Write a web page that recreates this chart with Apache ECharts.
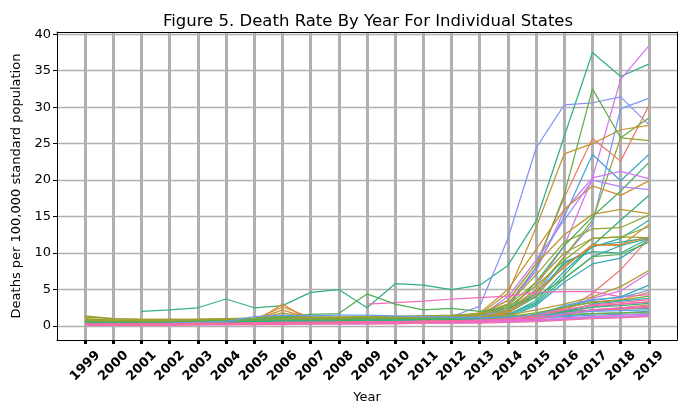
<!DOCTYPE html>
<html>
<head>
<meta charset="utf-8">
<script src="https://cdn.jsdelivr.net/npm/echarts@6/dist/echarts.min.js"></script>
<style>
  html, body { margin: 0; padding: 0; background: #fff; }
  #main { width: 686px; height: 414px; }
</style>
</head>
<body>
<div id="main"></div>
<script>
// years on the x axis
var years = [1999,2000,2001,2002,2003,2004,2005,2006,2007,2008,2009,2010,2011,2012,2013,2014,2015,2016,2017,2018,2019];
var yTicks = [0,5,10,15,20,25,30,35,40];

// one row per state, deaths per 100,000, null = no data
var stateRates = [
  [null,null,2.0,2.2,2.5,3.7,2.5,2.8,4.6,5.0,2.5,5.8,5.6,5.0,5.6,8.3,14.4,26.0,37.5,34.2,35.9],
  [0.3,0.3,0.4,0.4,0.5,0.6,0.6,1.0,0.8,0.8,0.9,0.9,1.0,1.1,1.5,2.5,5.5,11.0,20.3,33.8,38.4],
  [0.4,0.5,0.5,0.6,0.7,0.8,0.9,1.1,0.9,1.0,1.0,1.1,1.2,1.3,2.7,12.0,24.4,30.3,30.6,31.4,27.6],
  [0.3,0.3,0.3,0.4,0.4,0.5,0.5,0.7,0.6,0.6,0.7,0.7,0.8,0.9,1.2,2.2,4.5,9.5,14.0,29.8,31.2],
  [0.2,0.2,0.3,0.3,0.3,0.4,0.4,0.6,0.5,0.5,0.6,0.6,0.7,0.8,1.5,3.5,8.5,17.6,25.7,22.6,30.2],
  [0.5,0.4,0.4,0.5,0.5,0.6,0.7,0.9,0.8,0.8,0.9,1.0,1.0,1.1,1.2,3.0,8.0,18.0,32.5,25.8,28.5],
  [1.0,0.8,0.7,0.7,0.8,0.8,0.9,1.2,1.0,1.0,1.1,1.1,1.2,1.3,1.5,2.2,5.0,9.5,14.5,25.8,25.4],
  [0.6,0.6,0.6,0.7,0.7,0.8,0.9,2.6,1.2,1.1,1.1,1.2,1.3,1.4,1.6,4.5,13.5,23.6,25.0,26.9,27.5],
  [0.3,0.3,0.4,0.4,0.5,0.5,0.6,0.8,0.7,0.8,0.8,0.9,0.9,1.0,1.3,2.5,8.0,15.0,23.5,19.9,23.5],
  [0.4,0.4,0.4,0.5,0.5,0.6,0.6,0.8,0.7,0.7,0.8,0.8,0.9,1.0,1.2,2.0,6.0,11.0,15.0,18.5,22.4],
  [0.2,0.2,0.3,0.3,0.3,0.4,0.4,0.5,0.5,0.5,0.6,0.6,0.7,0.8,1.0,3.0,7.5,15.8,20.3,21.2,20.2],
  [0.5,0.5,0.5,0.6,0.6,0.7,0.8,2.2,1.0,1.0,1.0,1.1,1.2,1.3,1.8,5.0,10.5,16.0,19.2,17.9,19.9],
  [0.2,0.3,0.3,0.3,0.4,0.4,0.5,0.6,0.6,0.6,0.7,0.7,0.8,0.9,1.3,4.0,9.0,14.5,20.0,19.1,18.7],
  [0.3,0.3,0.3,0.4,0.4,0.5,0.5,0.6,0.6,0.6,0.7,0.7,0.8,0.8,1.0,1.6,3.2,7.0,11.0,14.5,17.9],
  [0.7,0.6,0.6,0.6,0.7,0.8,0.9,1.8,1.1,1.1,1.2,1.2,1.3,1.4,1.6,3.5,8.5,12.5,15.3,16.0,15.4],
  [1.4,1.0,0.9,0.9,0.9,1.0,1.0,1.3,1.2,1.2,1.3,1.3,1.4,1.5,1.7,3.0,7.0,11.5,13.3,13.5,15.2],
  [0.3,0.3,0.3,0.4,0.4,0.5,0.5,0.6,0.6,0.6,0.7,0.7,0.8,0.8,1.0,1.8,4.5,8.5,10.8,12.0,14.5],
  [0.4,0.4,0.4,0.5,0.5,0.5,0.6,1.5,0.8,0.8,0.9,0.9,1.0,1.0,1.2,2.0,4.8,8.0,11.2,11.0,13.9],
  [0.9,0.8,0.8,0.8,0.9,0.9,1.0,1.2,1.1,1.1,1.2,1.2,1.3,1.3,1.5,2.5,5.5,9.0,12.0,12.2,13.6],
  [0.2,0.2,0.3,0.3,0.3,0.4,0.4,0.5,0.5,0.5,0.6,0.6,0.7,0.7,0.9,1.5,3.5,7.5,11.0,11.5,12.1],
  [0.3,0.3,0.3,0.3,0.4,0.4,0.5,0.5,0.6,0.6,0.6,0.7,0.7,0.8,0.9,1.4,3.0,6.5,9.5,11.0,12.0],
  [0.4,0.4,0.4,0.4,0.5,0.5,0.6,0.7,0.7,0.7,0.8,0.8,0.9,0.9,1.1,1.8,4.0,8.8,10.2,10.0,12.0],
  [0.2,0.2,0.2,0.3,0.3,0.3,0.4,0.4,0.5,0.5,0.5,0.6,0.6,0.7,0.8,1.2,2.8,6.0,8.5,9.3,11.8],
  [0.3,0.3,0.3,0.3,0.4,0.4,0.5,3.0,0.7,0.7,0.7,0.8,0.8,0.9,1.0,1.8,4.2,8.2,11.0,11.2,12.2],
  [1.2,1.0,0.9,0.9,0.9,1.0,1.1,1.4,1.2,1.2,1.3,1.3,1.4,1.4,1.6,2.8,6.0,10.0,12.0,12.2,12.1],
  [0.2,0.2,0.2,0.2,0.3,0.3,0.3,0.4,0.4,0.4,0.4,0.5,0.5,0.5,0.6,0.7,1.0,2.0,4.5,7.7,12.0],
  [0.8,0.7,0.7,0.7,0.7,0.8,0.8,1.0,0.9,0.9,1.0,1.0,1.0,1.1,1.2,1.5,2.2,3.0,4.0,5.4,7.6],
  [0.2,0.2,0.2,0.2,0.3,0.3,0.3,0.4,0.4,0.4,0.5,0.5,0.5,0.6,0.7,0.9,1.4,2.5,3.8,4.8,7.3],
  [null,null,null,null,null,null,null,null,null,null,3.0,3.2,3.4,3.7,3.9,4.1,4.6,4.7,4.7,4.0,4.3],
  [0.3,0.3,0.3,0.4,0.4,0.4,0.5,0.6,0.6,0.6,0.7,0.7,0.8,0.8,0.9,1.1,1.6,2.6,3.5,4.0,5.6],
  [null,null,null,null,null,null,null,null,0.7,0.8,0.8,0.9,0.9,1.0,1.0,1.2,1.5,2.2,2.8,3.0,3.3],
  [0.2,0.2,0.3,0.3,0.3,0.4,0.4,0.5,0.5,0.6,0.6,0.6,0.7,0.7,0.8,1.0,1.5,2.8,3.6,3.9,4.9],
  [0.3,0.3,0.3,0.3,0.4,0.4,0.4,0.5,0.5,0.5,0.6,0.6,0.6,0.7,0.8,0.9,1.3,2.4,3.3,3.6,4.6],
  [0.6,0.5,0.5,0.6,0.6,0.6,0.7,0.8,0.8,0.8,0.9,0.9,1.0,1.0,1.1,1.3,1.8,2.6,3.2,3.5,4.1],
  [0.2,0.2,0.2,0.3,0.3,0.3,0.4,0.4,0.4,0.5,0.5,0.5,0.6,0.6,0.7,0.9,1.2,2.0,3.0,3.4,3.8],
  [0.1,0.1,0.2,0.2,0.2,0.2,0.3,0.3,0.3,0.4,0.4,0.4,0.5,0.5,0.6,0.8,1.1,1.8,2.6,3.0,3.3],
  [0.2,0.2,0.2,0.2,0.2,0.3,0.3,0.4,0.4,0.4,0.4,0.5,0.5,0.5,0.6,0.7,0.9,1.5,2.2,2.5,2.9],
  [0.5,0.5,0.5,0.6,0.6,0.7,0.8,0.9,0.9,0.9,1.0,1.0,1.0,1.1,1.1,1.2,1.5,1.9,2.2,2.3,2.4],
  [0.3,0.3,0.4,0.4,0.4,0.5,0.5,0.6,0.6,0.6,0.7,0.7,0.7,0.8,0.8,0.9,1.1,1.4,1.7,1.8,2.0],
  [0.4,0.4,0.4,0.5,0.5,0.6,0.6,0.7,0.7,0.7,0.8,0.8,0.8,0.9,0.9,1.0,1.1,1.3,1.5,1.6,1.7],
  [0.2,0.2,0.2,0.3,0.3,0.3,0.4,0.4,0.4,0.5,0.5,0.5,0.5,0.6,0.6,0.7,0.8,1.0,1.2,1.3,1.5],
  [0.1,0.1,0.1,0.2,0.2,0.2,0.2,0.3,0.3,0.3,0.3,0.4,0.4,0.4,0.5,0.6,0.7,0.9,1.1,1.2,1.4],
  [0.3,0.3,0.3,0.3,0.4,0.4,0.4,0.5,0.5,0.6,0.6,0.6,0.7,0.7,0.8,0.9,1.2,1.7,2.1,2.3,2.6],
  [0.7,0.6,0.6,0.6,0.7,0.7,0.8,0.9,0.9,0.9,1.0,1.0,1.0,1.1,1.1,1.2,1.4,1.6,1.7,1.8,1.9],
  [0.4,0.4,0.4,0.5,0.6,0.7,0.9,1.2,1.6,1.7,4.4,3.0,2.2,2.4,2.0,2.5,4.0,6.5,9.5,9.8,11.5],
  [0.3,0.3,0.4,0.4,0.5,0.5,0.6,0.7,0.7,0.7,0.8,0.8,0.9,0.9,1.0,1.1,1.4,2.0,2.6,2.8,3.1],
  [0.3,0.3,0.3,0.4,0.5,0.6,1.3,1.5,1.4,1.5,1.5,1.4,1.3,1.2,1.1,1.2,1.4,1.7,2.0,2.1,2.2],
  [0.2,0.2,0.2,0.2,0.3,0.3,0.3,0.4,0.4,0.4,0.4,0.5,0.5,0.5,0.6,0.7,0.8,1.1,1.3,1.5,1.6],
  [0.2,0.2,0.3,0.3,0.3,0.3,0.4,0.4,0.4,0.5,0.5,0.5,0.6,0.6,0.7,0.8,1.0,1.6,2.2,2.5,2.7],
  [0.1,0.1,0.1,0.1,0.2,0.2,0.2,0.2,0.3,0.3,0.3,0.3,0.4,0.4,0.4,0.5,0.6,0.8,1.0,1.1,1.3],
  [0.3,0.3,0.3,0.3,0.4,0.4,0.4,0.5,0.5,0.5,0.6,0.6,0.6,0.7,0.8,1.0,1.4,2.2,2.9,3.2,3.6]
];
// hue slot (0..50) of each state's line in the husl palette
var stateHue = [22,42,37,36,2,17,12,8,32,19,41,7,39,21,9,13,26,6,14,27,25,23,28,5,11,1,10,43,47,30,45,34,3,15,29,48,4,24,31,33,38,40,0,16,18,20,35,44,46,49,50];

// seaborn husl anchors, blended to 51 hues
var huslAnchors = ['#f77189','#dc8932','#ae9d31','#77ab31','#33b07a','#36ada4','#38a9c5','#6e9bf4','#cc7af4','#f565cc'];

function hexToRgb(h){
    return [parseInt(h.substr(1,2),16), parseInt(h.substr(3,2),16), parseInt(h.substr(5,2),16)];
}
function hueColor(k){
    var t = k * huslAnchors.length / 51;
    var i = Math.floor(t), f = t - i;
    var a = hexToRgb(huslAnchors[i % huslAnchors.length]);
    var b = hexToRgb(huslAnchors[(i + 1) % huslAnchors.length]);
    var c = a.map(function(v, j){ return Math.round(v + (b[j] - v) * f); });
    return 'rgb(' + c.join(',') + ')';
}

// matplotlib pads the categorical axis by one slot on each side
var xSlots = ['pad-left'].concat(years.map(String)).concat(['pad-right']);
var lastSlot = xSlots.length - 1;
function realSlot(index){ return index > 0 && index < lastSlot; }

var font = 'DejaVu Sans';
var series = stateRates.map(function(row, s){
    return {
        name: 'state' + s,
        type: 'line',
        showSymbol: false,
        silent: true,
        connectNulls: false,
        lineStyle: { width: 1.25, color: hueColor(stateHue[s]) },
        data: row.map(function(v, i){ return [i + 1, v]; })
    };
});

var myChart = echarts.init(document.getElementById('main'));
var option = {
    animation: false,
    backgroundColor: '#fff',
    title: {
        text: 'Figure 5. Death Rate By Year For Individual States',
        left: 363,
        top: 8,
        textAlign: 'center',
        textStyle: { fontFamily: font, fontSize: 16.5, fontWeight: 'normal', color: '#000' }
    },
    grid: { left: 57, right: 9, top: 32, bottom: 74, show: false },
    xAxis: [
        {
            type: 'category',
            data: xSlots,
            boundaryGap: false,
            name: 'Year',
            nameLocation: 'middle',
            nameGap: 51,
            nameMoveOverlap: false,
            nameTextStyle: { fontFamily: font, fontSize: 13, color: '#000', verticalAlign: 'top' },
            axisLine: { show: true, onZero: false, lineStyle: { color: '#000', width: 1 } },
            axisTick: { show: true, interval: realSlot, length: 4, lineStyle: { color: '#000', width: 3 } },
            axisLabel: {
                interval: realSlot,
                rotate: 45,
                align: 'center',
                verticalAlign: 'middle',
                margin: 26,
                fontFamily: font,
                fontSize: 13,
                fontWeight: 'bold',
                color: '#000'
            },
            splitLine: { show: true, interval: realSlot, lineStyle: { color: '#b0b0b0', width: 3 } }
        },
        {
            type: 'category', data: xSlots, boundaryGap: false, position: 'top',
            axisLine: { show: true, onZero: false, lineStyle: { color: '#000', width: 1 } },
            axisTick: { show: false }, axisLabel: { show: false }, splitLine: { show: false }
        }
    ],
    yAxis: [
        {
            type: 'value',
            min: -1.92,
            max: 40.3,
            name: 'Deaths per 100,000 standard population',
            nameLocation: 'middle',
            nameGap: 34,
            nameTextStyle: { fontFamily: font, fontSize: 13, color: '#000' },
            axisLine: { show: true, onZero: false, lineStyle: { color: '#000', width: 1 } },
            axisTick: { show: true, customValues: yTicks, length: 4, lineStyle: { color: '#000', width: 1 } },
            axisLabel: { customValues: yTicks, margin: 6, fontFamily: font, fontSize: 13, color: '#000' },
            splitLine: { show: true, lineStyle: { color: '#b0b0b0', width: 1.3 } }
        },
        {
            type: 'value', position: 'right', min: -1.92, max: 40.3,
            axisLine: { show: true, onZero: false, lineStyle: { color: '#000', width: 1 } },
            axisTick: { show: false }, axisLabel: { show: false }, splitLine: { show: false }
        }
    ],
    series: series
};
myChart.setOption(option);
</script>
</body>
</html>
